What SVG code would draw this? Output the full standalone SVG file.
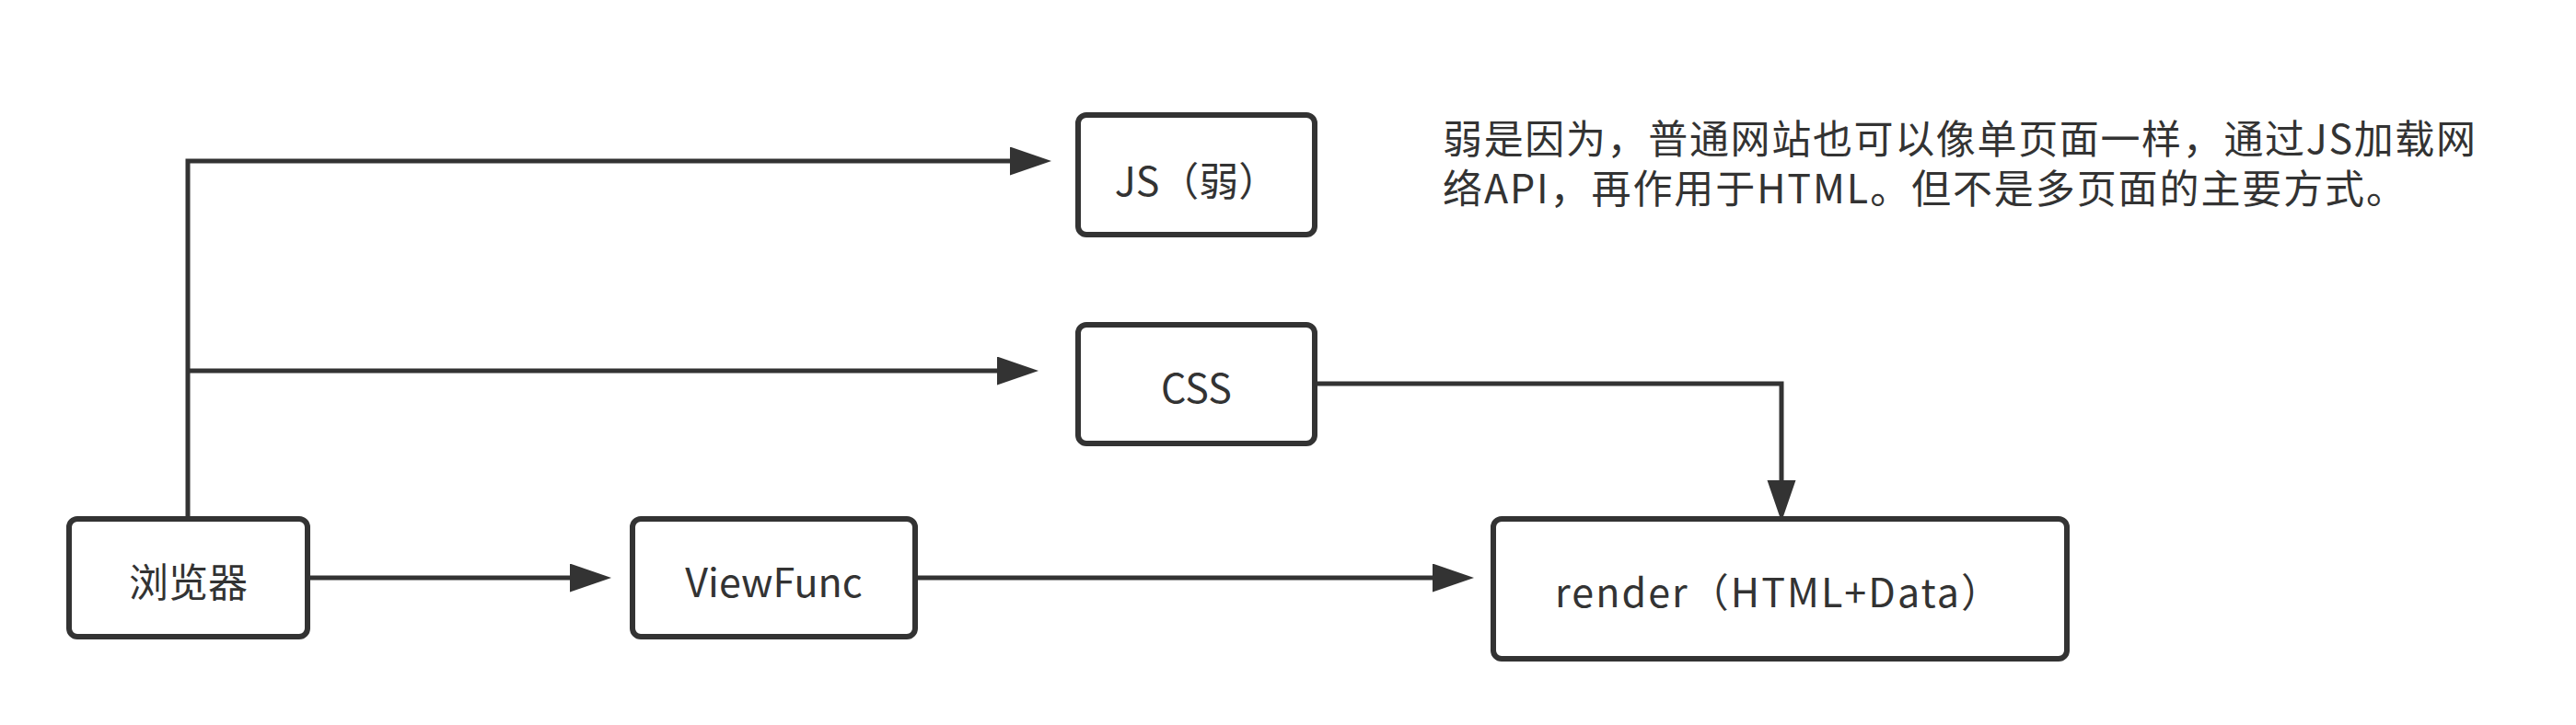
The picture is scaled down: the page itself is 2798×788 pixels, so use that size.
<svg xmlns="http://www.w3.org/2000/svg" width="2798" height="788" viewBox="0 0 2798 788">
<defs>
<style>
.box{fill:#ffffff;stroke:#333333;stroke-width:6}
.lbl{font-family:"Noto Sans CJK SC","Noto Sans",sans-serif;font-size:43px;fill:#333333;text-anchor:middle;dominant-baseline:central}
.note{font-family:"Noto Sans CJK SC","Noto Sans",sans-serif;font-size:43px;fill:#333333}
.edge{fill:none;stroke:#333333;stroke-width:5;marker-end:url(#arr)}
</style>
<marker id="arr" markerUnits="userSpaceOnUse" markerWidth="46" markerHeight="32" refX="0" refY="15.5" orient="auto" viewBox="0 0 46 32">
<path d="M0,0 L45,15.5 L0,31 Z" fill="#333333"/>
</marker>
</defs>
<rect width="2798" height="788" fill="#ffffff"/>
<g id="connectors">
<polyline class="edge" points="204,563 204,175 1097,175"/>
<polyline class="edge" points="204,403 1083,403"/>
<line class="edge" x1="335" y1="628" x2="619" y2="628"/>
<line class="edge" x1="994" y1="628" x2="1556" y2="628"/>
<polyline class="edge" points="1428,417 1935,417 1935,522"/>
</g>
<g id="browser">
<rect class="box" x="75" y="564" width="259" height="128" rx="9"/>
<text class="lbl" x="204.5" y="630">浏览器</text>
</g>
<g id="viewfunc">
<rect class="box" x="687" y="564" width="307" height="128" rx="9"/>
<text class="lbl" x="840.5" y="630">ViewFunc</text>
</g>
<g id="js">
<rect class="box" x="1171" y="125" width="257" height="130" rx="9"/>
<text class="lbl" x="1299.5" y="194">JS（弱）</text>
</g>
<g id="css">
<rect class="box" x="1171" y="353" width="257" height="129" rx="9"/>
<text class="lbl" x="1299.5" y="419">CSS</text>
</g>
<g id="render">
<rect class="box" x="1622" y="564" width="623" height="152" rx="9"/>
<text class="lbl" x="1689" y="641" style="text-anchor:start" textLength="484" lengthAdjust="spacing">render（HTML+Data）</text>
</g>
<g id="note">
<text class="note"><tspan x="1567" y="167" textLength="1122" lengthAdjust="spacing">弱是因为，普通网站也可以像单页面一样，通过JS加载网</tspan><tspan x="1567" y="221" textLength="1046" lengthAdjust="spacing">络API，再作用于HTML。但不是多页面的主要方式。</tspan></text>
</g>
</svg>
